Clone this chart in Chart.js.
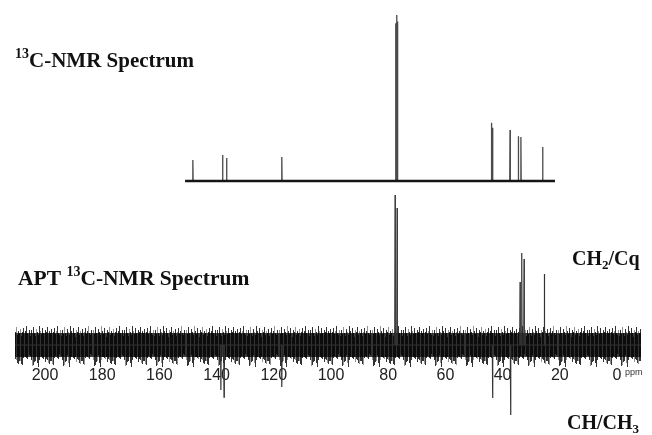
<!DOCTYPE html>
<html>
<head>
<meta charset="utf-8">
<script src="https://cdn.jsdelivr.net/npm/chart.js@4.4.1/dist/chart.umd.min.js"></script>
<style>
  html, body { margin: 0; padding: 0; background: #fff; }
  canvas { display: block; }
</style>
</head>
<body>
<canvas id="nmr" width="652" height="435"></canvas>
<script>
// 13C-NMR: shifts (ppm) and relative heights (tallest line = 100)
const c13Shifts  = [148.3, 137.9, 136.5, 117.2, 77.4, 77.0, 76.7, 43.9, 43.5, 37.4, 34.5, 33.6, 26.0];
const c13Heights = [12.7, 15.7, 13.9, 14.5, 95, 100, 96, 35, 32, 30.7, 27, 26.5, 20.5];
const c13Range   = [151.0, 21.7];

// APT 13C-NMR: up = CH2/Cq, down = CH/CH3
const aptShifts  = [138.5, 137.4, 117.2, 77.6, 76.9, 43.5, 37.2, 33.9, 33.3, 32.5, 25.4];
const aptHeights = [-30, -34.7, -28, 100, 91.3, -35.3, -46.7, 42, 61.3, 57.3, 47.3];
const aptRange   = [210.5, -8.4];
const aptNoise   = [14, -16];   // upper / lower edge of the noise band

const ppmTicks = [200, 180, 160, 140, 120, 100, 80, 60, 40, 20, 0];

// stroke extents (px inside the band) for the noise texture tile
const hatchTops    = [6, 10, 3, 9, 12, 5, 8, 11, 2, 7, 10, 4, 9, 13, 6, 8, 3, 11, 7, 9, 5, 12, 8, 4, 10, 7, 2, 9, 11, 6, 12];
const hatchBottoms = [36, 33, 40, 35, 31, 38, 34, 42, 33, 37, 30, 39, 35, 32, 41, 34, 37, 31, 43, 36, 33, 38, 35, 40, 32, 36, 39, 34, 37, 33, 41];

// stick spectrum: baseline with a narrow spike at every shift
function sticks(range, shifts, heights, w) {
  const peaks = shifts.map((s, i) => ({ s, h: heights[i] })).sort((a, b) => b.s - a.s);
  const pts = [{ x: range[0], y: 0 }];
  peaks.forEach(p => pts.push({ x: p.s + w, y: 0 }, { x: p.s, y: p.h }, { x: p.s - w, y: 0 }));
  pts.push({ x: range[1], y: 0 });
  return pts;
}

let noisePattern = null;
function noiseFill(context) {
  const chart = context.chart;
  if (!chart.chartArea) return 'rgba(20,20,20,0.85)';
  if (noisePattern) return noisePattern;
  const y2 = chart.scales.y2;
  const top = Math.round(y2.getPixelForValue(aptNoise[0]));
  const bot = Math.round(y2.getPixelForValue(aptNoise[1]));
  const h = bot - top;
  const n = hatchTops.length;
  const w = n * 3;
  const tile = document.createElement('canvas');
  tile.width = w; tile.height = h;
  const t = tile.getContext('2d');
  // dense core of the band
  t.fillStyle = 'rgba(12,12,12,0.80)';
  t.fillRect(0, 9, w, h - 21);
  // vertical strokes of uneven length, the stroke lists read in three strides
  for (let i = 0; i < w; i++) {
    const a = hatchTops[i % n];
    const b = hatchBottoms[(i * 7) % n];
    t.fillStyle = i % 4 === 0 ? 'rgba(40,40,40,0.5)' : 'rgba(0,0,0,0.8)';
    t.fillRect(i, a, 1, b - a);
  }
  noisePattern = chart.ctx.createPattern(tile, 'repeat-x');
  noisePattern.setTransform(new DOMMatrix([1, 0, 0, 1, 0, top]));
  return noisePattern;
}

function richText(ctx, x, y, parts) {
  parts.forEach(p => {
    ctx.font = 'bold ' + p.size + 'px "Liberation Serif", "Times New Roman", serif';
    ctx.fillText(p.t, x, y + (p.dy || 0));
    x += ctx.measureText(p.t).width;
  });
}

const annotations = {
  id: 'annotations',
  afterDraw(chart) {
    const ctx = chart.ctx;
    ctx.save();
    ctx.fillStyle = '#111';
    ctx.textBaseline = 'alphabetic';
    ctx.textAlign = 'left';
    richText(ctx, 15, 67, [{ t: '13', size: 14, dy: -9 }, { t: 'C-NMR Spectrum', size: 21 }]);
    richText(ctx, 18, 285, [{ t: 'APT ', size: 21.5 }, { t: '13', size: 14, dy: -9 }, { t: 'C-NMR Spectrum', size: 21.5 }]);
    richText(ctx, 572, 265, [{ t: 'CH', size: 20 }, { t: '2', size: 13, dy: 4 }, { t: '/Cq', size: 20 }]);
    richText(ctx, 567, 429, [{ t: 'CH/CH', size: 20 }, { t: '3', size: 13, dy: 4 }]);
    // unit after the 0 ppm tick label
    const x0 = chart.scales.x.getPixelForValue(0);
    ctx.font = '9px "Liberation Sans", Arial, sans-serif';
    ctx.fillStyle = '#333';
    ctx.fillText('ppm', x0 + 8, 375);
    ctx.restore();
  }
};

new Chart(document.getElementById('nmr'), {
  type: 'line',
  data: {
    datasets: [
      {
        label: '13C-NMR baseline',
        data: [{ x: c13Range[0], y: 0 }, { x: c13Range[1], y: 0 }],
        yAxisID: 'y',
        borderColor: '#151515',
        borderWidth: 2.4,
        pointRadius: 0,
        order: 0
      },
      {
        label: '13C-NMR',
        data: sticks(c13Range, c13Shifts, c13Heights, 0.1),
        yAxisID: 'y',
        borderColor: '#4a4a4a',
        borderWidth: 1.3,
        pointRadius: 0,
        tension: 0,
        order: 1
      },
      {
        label: 'APT',
        data: sticks(aptRange, aptShifts, aptHeights, 0.1),
        yAxisID: 'y2',
        borderColor: '#333',
        borderWidth: 1.2,
        pointRadius: 0,
        tension: 0,
        order: 1
      },
      {
        label: 'APT noise',
        data: [{ x: aptRange[0], y: aptNoise[0] }, { x: aptRange[1], y: aptNoise[0] }],
        yAxisID: 'y2',
        borderWidth: 0,
        borderColor: 'rgba(0,0,0,0)',
        backgroundColor: noiseFill,
        fill: { value: aptNoise[1] },
        pointRadius: 0,
        order: 2
      }
    ]
  },
  options: {
    responsive: false,
    animation: false,
    devicePixelRatio: 1,
    layout: { padding: 0 },
    plugins: { legend: { display: false }, tooltip: { enabled: false } },
    scales: {
      x: {
        type: 'linear',
        reverse: true,
        min: -12.24,
        max: 215.73,
        position: { y2: -14 },
        grid: { display: false, drawTicks: false },
        border: { display: false },
        afterBuildTicks: s => { s.ticks = ppmTicks.map(v => ({ value: v })); },
        ticks: {
          padding: 0,
          autoSkip: false,
          maxRotation: 0,
          color: '#222',
          font: { family: '"Liberation Sans", Arial, sans-serif', size: 16 }
        }
      },
      y:  { type: 'linear', display: false, min: -153, max: 109 },
      y2: { type: 'linear', display: false, min: -60, max: 230 }
    }
  },
  plugins: [annotations]
});
</script>
</body>
</html>
